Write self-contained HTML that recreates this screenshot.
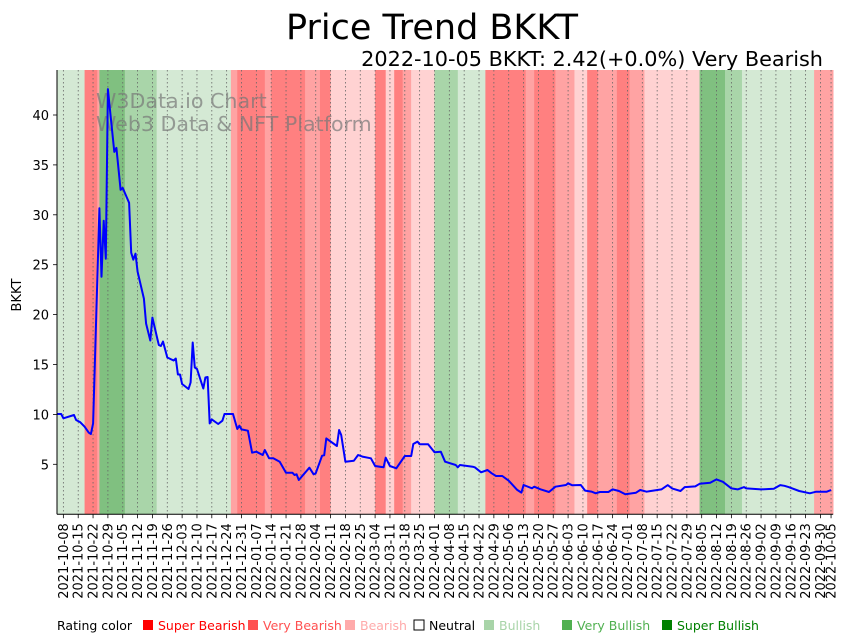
<!DOCTYPE html>
<html><head><meta charset="utf-8">
<style>
html,body{margin:0;padding:0;background:#fff;}
svg{display:block;font-family:"DejaVu Sans","Liberation Sans",sans-serif;}
</style></head>
<body>
<svg id="chart" width="851" height="641" viewBox="0 0 851 641" xmlns="http://www.w3.org/2000/svg">
  <text x="432" y="39" text-anchor="middle" font-size="35" fill="#000">Price Trend BKKT</text>
  <text x="823" y="66" text-anchor="end" font-size="20.8" fill="#000">2022-10-05 BKKT: 2.42(+0.0%) Very Bearish</text>
  <g id="bands"></g>
  <g id="grid"></g>
  <text x="96" y="108" font-size="20.6" fill="#777" fill-opacity="0.7">W3Data.io Chart</text>
  <text x="96" y="131" font-size="20.6" fill="#777" fill-opacity="0.7">Web3 Data &amp; NFT Platform</text>
  <path id="priceLine" fill="none" stroke="#0000ff" stroke-width="2" stroke-linejoin="round"/>
  <g id="axes"></g>
  <text transform="translate(21,295) rotate(-90)" text-anchor="middle" font-size="13" fill="#000">BKKT</text>
  <g id="legend"></g>
</svg>
<script>
// Day offsets from 2021-10-05
const priceDays = [0,2,3,8,9,11,13,15,16,17,20,21,22,23,24,25,27,28,30,31,34,35,36,37,38,41,42,44,45,48,49,50,52,55,56,57,58,59,62,63,64,65,66,69,70,71,72,73,76,78,79,83,85,86,87,90,92,94,97,98,100,102,105,108,111,112,113,114,119,121,122,125,126,127,132,133,134,136,140,142,144,148,150,154,155,157,160,164,167,168,170,171,175,178,181,183,188,189,190,196,197,200,203,205,207,210,213,217,219,220,224,225,228,232,235,240,241,243,247,249,252,254,256,260,262,265,268,273,275,278,280,285,288,290,294,296,301,303,308,311,314,318,321,324,325,332,338,341,343,345,350,355,358,363,365];
const priceValues = [10.04,10.04,9.61,9.94,9.44,9.21,8.77,8.17,8.04,9.1,30.65,23.8,29.4,25.6,42.6,40.5,36.3,36.7,32.5,32.7,31.2,26.2,25.5,26.1,24.3,21.6,19.1,17.4,19.7,16.95,16.85,17.3,15.7,15.4,15.6,14.0,14.0,13.05,12.55,13.2,17.2,14.7,14.55,12.6,13.7,13.75,9.1,9.5,9.04,9.37,10.04,10.04,8.54,8.87,8.5,8.37,6.16,6.26,5.93,6.43,5.6,5.6,5.26,4.16,4.16,3.93,4.0,3.43,4.66,4.0,4.1,5.86,5.9,7.6,6.83,8.44,7.94,5.26,5.36,5.93,5.77,5.6,4.83,4.7,5.66,4.83,4.6,5.83,5.83,7.03,7.27,7.0,7.0,6.2,6.26,5.26,4.93,4.7,4.93,4.76,4.7,4.2,4.43,4.1,3.83,3.83,3.36,2.43,2.16,2.93,2.6,2.76,2.5,2.22,2.76,2.93,3.1,2.9,2.93,2.36,2.26,2.09,2.22,2.22,2.48,2.32,1.99,2.15,2.42,2.25,2.32,2.48,2.92,2.59,2.32,2.72,2.79,3.05,3.15,3.49,3.25,2.59,2.48,2.72,2.59,2.48,2.55,2.92,2.85,2.72,2.32,2.09,2.25,2.25,2.42];
const bandStarts = [0,13,19,20,32,47,82,85,98,101,117,124,129,150,155,159,163,167,178,189,202,221,225,235,244,250,255,264,270,277,303,315,323,357];
const bandRatings = [1,-3,-2,3,2,1,-2,-3,-2,-3,-2,-3,-1,-3,-1,-3,-2,-1,2,1,-3,-2,-3,-2,-1,-3,-2,-3,-2,-1,3,2,1,-2];
const bandEndDay = 366;
const yTicks = [5,10,15,20,25,30,35,40];
const tickLabels = ["2021-10-08","2021-10-15","2021-10-22","2021-10-29","2021-11-05","2021-11-12","2021-11-19","2021-11-26","2021-12-03","2021-12-10","2021-12-17","2021-12-24","2021-12-31","2022-01-07","2022-01-14","2022-01-21","2022-01-28","2022-02-04","2022-02-11","2022-02-18","2022-02-25","2022-03-04","2022-03-11","2022-03-18","2022-03-25","2022-04-01","2022-04-08","2022-04-15","2022-04-22","2022-04-29","2022-05-06","2022-05-13","2022-05-20","2022-05-27","2022-06-03","2022-06-10","2022-06-17","2022-06-24","2022-07-01","2022-07-08","2022-07-15","2022-07-22","2022-07-29","2022-08-05","2022-08-12","2022-08-19","2022-08-26","2022-09-02","2022-09-09","2022-09-16","2022-09-23","2022-09-30","2022-10-05"];
const tickDays = [3,10,17,24,31,38,45,52,59,66,73,80,87,94,101,108,115,122,129,136,143,150,157,164,171,178,185,192,199,206,213,220,227,234,241,248,255,262,269,276,283,290,297,304,311,318,325,332,339,346,353,360,365];
const legendNames = ["Super Bearish","Very Bearish","Bearish","Neutral","Bullish","Very Bullish","Super Bullish"];
const legendColors = ["#ff0000","#ff5050","#ffaaaa","#ffffff","#a8d4a8","#50b050","#008000"];
const legendTextColors = ["#ff0000","#ff5050","#ffaaaa","#000000","#a8d4a8","#50b050","#008000"];

const NS = "http://www.w3.org/2000/svg";
const X0 = 57, PXD = 2.1207, Y0 = 514.2, PXV = 9.98, TOP = 70;
function xs(d){ return X0 + d*PXD; }
function ys(v){ return Y0 - v*PXV; }
const bandColor = {"-3":"#ff8080","-2":"#ffa3a3","-1":"#ffd2d2","0":"#ffffff","1":"#d4e9d4","2":"#a9d5a9","3":"#80c080"};

const bands = document.getElementById('bands');
for (let i=0;i<bandStarts.length;i++){
  const s = bandStarts[i], e = i+1<bandStarts.length ? bandStarts[i+1] : bandEndDay;
  const r = document.createElementNS(NS,'rect');
  
  
  r.setAttribute('x', xs(s)); r.setAttribute('y', TOP);
  r.setAttribute('width', xs(e)-xs(s)+0.3); r.setAttribute('height', Y0-TOP);
  r.setAttribute('fill', bandColor[String(bandRatings[i])]);
  bands.appendChild(r);
}

const grid = document.getElementById('grid');
const axes = document.getElementById('axes');
for (let i=0;i<tickDays.length;i++){
  const x = xs(tickDays[i]);
  const l = document.createElementNS(NS,'line');
  
  
  l.setAttribute('x1',x); l.setAttribute('x2',x); l.setAttribute('y1',TOP); l.setAttribute('y2',Y0);
  l.setAttribute('stroke','#666'); l.setAttribute('stroke-width','0.8'); l.setAttribute('stroke-dasharray','1.5,2.5');
  grid.appendChild(l);
  const t = document.createElementNS(NS,'line');
  
  
  t.setAttribute('x1',x); t.setAttribute('x2',x); t.setAttribute('y1',Y0); t.setAttribute('y2',Y0+4);
  t.setAttribute('stroke','#000'); t.setAttribute('stroke-width','0.8');
  axes.appendChild(t);
  const tx = document.createElementNS(NS,'text');
  
  
  tx.setAttribute('transform','translate('+(x+4.5)+','+(Y0+9)+') rotate(-90)');
  tx.setAttribute('text-anchor','end'); tx.setAttribute('font-size','13');
  tx.textContent = tickLabels[i];
  axes.appendChild(tx);
}
for (let i=0;i<yTicks.length;i++){
  const y = ys(yTicks[i]);
  const t = document.createElementNS(NS,'line');
  
  
  t.setAttribute('x1',X0-4); t.setAttribute('x2',X0); t.setAttribute('y1',y); t.setAttribute('y2',y);
  t.setAttribute('stroke','#000'); t.setAttribute('stroke-width','0.8');
  axes.appendChild(t);
  const tx = document.createElementNS(NS,'text');
  
  
  tx.setAttribute('x',X0-8); tx.setAttribute('y',y+5);
  tx.setAttribute('text-anchor','end'); tx.setAttribute('font-size','13');
  tx.textContent = yTicks[i];
  axes.appendChild(tx);
}
const la = document.createElementNS(NS,'line');


la.setAttribute('x1',X0); la.setAttribute('x2',X0); la.setAttribute('y1',TOP); la.setAttribute('y2',Y0);
la.setAttribute('stroke','#000'); la.setAttribute('stroke-width','1');
axes.appendChild(la);
const lb = document.createElementNS(NS,'line');


lb.setAttribute('x1',X0); lb.setAttribute('x2',xs(bandEndDay)); lb.setAttribute('y1',Y0); lb.setAttribute('y2',Y0);
lb.setAttribute('stroke','#000'); lb.setAttribute('stroke-width','1');
axes.appendChild(lb);

let d = '';
for (let i=0;i<priceDays.length;i++){
  d += (i?'L':'M') + xs(priceDays[i]).toFixed(1) + ',' + ys(priceValues[i]).toFixed(1);
}
document.getElementById('priceLine').setAttribute('d', d);

const legend = document.getElementById('legend');
const lt = document.createElementNS(NS,'text');


lt.setAttribute('x',57); lt.setAttribute('y',630); lt.setAttribute('font-size','12.5');
lt.textContent = 'Rating color';
legend.appendChild(lt);
const legendX = [143,248,345,414,484,562,662];
for (let i=0;i<legendNames.length;i++){
  const r = document.createElementNS(NS,'rect');
  
  
  r.setAttribute('x',legendX[i]); r.setAttribute('y',620); r.setAttribute('width',10); r.setAttribute('height',10);
  r.setAttribute('fill',legendColors[i]);
  if (legendNames[i]==='Neutral'){ r.setAttribute('stroke','#000'); r.setAttribute('stroke-width','1'); }
  legend.appendChild(r);
  const t = document.createElementNS(NS,'text');
  
  
  t.setAttribute('x',legendX[i]+15); t.setAttribute('y',630); t.setAttribute('font-size','12.5');
  t.setAttribute('fill',legendTextColors[i]);
  t.textContent = legendNames[i];
  legend.appendChild(t);
}
</script>
</body></html>
